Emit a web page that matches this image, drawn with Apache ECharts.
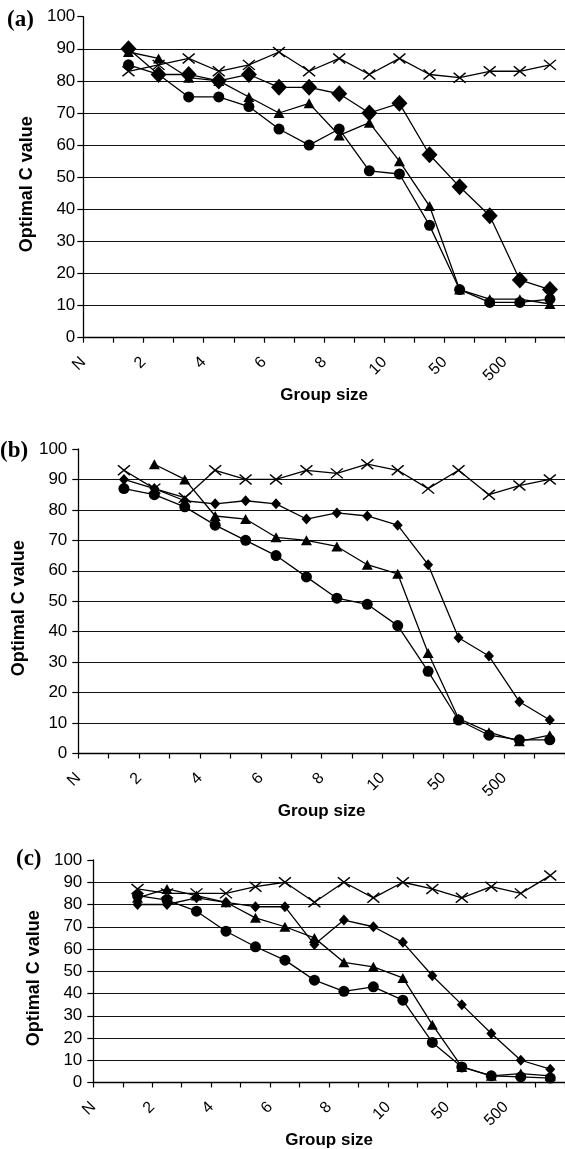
<!DOCTYPE html>
<html><head><meta charset="utf-8">
<script src="https://cdn.jsdelivr.net/npm/echarts@6/dist/echarts.min.js"></script>
<style>html,body{margin:0;padding:0;background:#fff}#c{width:565px;height:1149px}</style>
</head><body><div id="c"></div>
<script>
// 16 category slots; tick labels sit at the left boundary of even slots
const categories = ['N','','2','','4','','6','','8','','10','','50','','500',''];
const yTicks = {min: 0, max: 100, step: 10};

// Panel (a)
const aDiamond  = [null, 90, 82, 82, 80, 82, 78, 78, 76, 70, 73, 57, 47, 38, 18, 15];
const aTriangle = [null, 89, 87, 81, 80, 75, 70, 73, 63, 67, 55, 41, 15, 12, 12, 10.5];
const aCircle   = [null, 85, 82, 75, 75, 72, 65, 60, 65, 52, 51, 35, 15, 11, 11, 12];
const aCross    = [null, 83, 85, 87, 83, 85, 89, 83, 87, 82, 87, 82, 81, 83, 83, 85];
// Panel (b)
const bDiamond  = [null, 90, 87, 83, 82, 83, 82, 77, 79, 78, 75, 62, 38, 32, 17, 11];
const bTriangle = [null, null, 95, 90, 78, 77, 71, 70, 68, 62, 59, 33, 11.5, 7, 4, 6];
const bCircle   = [null, 87, 85, 81, 75, 70, 65, 58, 51, 49, 42, 27, 11, 6, 4.5, 4.5];
const bCross    = [null, 93, 87, 84, 93, 90, 90, 93, 92, 95, 93, 87, 93, 85, 88, 90];
// Panel (c)
const cDiamond  = [null, 80, 80, 83, 81, 79, 79, 62, 73, 70, 63, 48, 35, 22, 10, 6];
const cTriangle = [null, 83, 87, 84, 81, 74, 70, 65, 54, 52, 47, 26, 7, 3, 4, 3];
const cCircle   = [null, 84, 82, 77, 68, 61, 55, 46, 41, 43, 37, 18, 7, 3, 2.5, 2];
const cCross    = [null, 87, 85, 85, 85, 88, 90, 81, 90, 83, 90, 87, 83, 88, 85, 93];

const panelNames = ['(a)', '(b)', '(c)'];
const xName = 'Group size';
const yName = 'Optimal C value';

const FONT = '"Liberation Sans", Arial, sans-serif';
const CROSS = 'path://M0 0L10 10M10 0L0 10';

const panels = [
  {label: panelNames[0], labelPos: [7, 9], left: 83.3, top: 16.7, height: 321, yMargin: 8, yNameGap: 38, xNameGap: 44,
   sets: {cross: aCross, triangle: aTriangle, circle: aCircle, diamond: aDiamond}, diamondSize: [16, 17]},
  {label: panelNames[1], labelPos: [0, 440], left: 78.3, top: 449, height: 304.5, yMargin: 11, yNameGap: 43, xNameGap: 41,
   sets: {cross: bCross, triangle: bTriangle, circle: bCircle, diamond: bDiamond}, diamondSize: [10, 11]},
  {label: panelNames[2], labelPos: [16, 848], left: 93.3, top: 860, height: 222.5, yMargin: 11, yNameGap: 45, xNameGap: 48,
   sets: {cross: cCross, triangle: cTriangle, circle: cCircle, diamond: cDiamond}, diamondSize: [10, 11]}
];

const splitColors = [];
for (let v = yTicks.min; v <= yTicks.max; v += yTicks.step) splitColors.push(v === yTicks.max ? 'rgba(0,0,0,0)' : '#111');

const option = {animation: false, backgroundColor: '#fff', grid: [], xAxis: [], yAxis: [], series: [], graphic: []};

panels.forEach((p, k) => {
  option.grid.push({left: p.left, top: p.top, right: 0, height: p.height, containLabel: false, outerBoundsMode: 'none'});
  option.xAxis.push({
    gridIndex: k, type: 'category', position: 'bottom', data: categories, boundaryGap: true,
    axisLine: {lineStyle: {color: '#000', width: 1.3}},
    axisTick: {show: true, interval: 0, length: 5, lineStyle: {color: '#000', width: 1.2}},
    axisLabel: {show: false}, splitLine: {show: false}
  });
  option.xAxis.push({
    gridIndex: k, type: 'value', position: 'bottom', min: 0, max: categories.length, interval: 2,
    axisLine: {show: false}, axisTick: {show: false}, splitLine: {show: false},
    axisLabel: {rotate: 45, margin: 22, fontSize: 16, color: '#000', fontFamily: FONT, padding: [8, 0, 0, 0],
      formatter: v => categories[v] || ''},
    name: xName, nameLocation: 'middle', nameGap: p.xNameGap,
    nameTextStyle: {fontSize: 17, fontWeight: 'bold', color: '#000', fontFamily: FONT}
  });
  option.yAxis.push({
    gridIndex: k, type: 'value', position: 'left', min: yTicks.min, max: yTicks.max, interval: yTicks.step,
    axisLine: {show: true, lineStyle: {color: '#000', width: 1.3}},
    axisTick: {show: true, length: 6, lineStyle: {color: '#000', width: 1.2}},
    axisLabel: {margin: p.yMargin, fontSize: 17, color: '#000', fontFamily: FONT},
    splitLine: {show: true, lineStyle: {color: splitColors, width: 1.2}},
    name: yName, nameLocation: 'middle', nameGap: p.yNameGap,
    nameTextStyle: {fontSize: 18, fontWeight: 'bold', color: '#000', fontFamily: FONT, padding: [0, 14, 0, 0]}
  });
  const common = {type: 'line', xAxisIndex: 2 * k, yAxisIndex: k, showAllSymbol: true, silent: true,
    lineStyle: {color: '#000', width: 1.3}, emphasis: {disabled: true}};
  const fix = arr => arr.map(v => v == null ? '-' : v);
  option.series.push(Object.assign({}, common, {name: 'cross', data: fix(p.sets.cross), symbol: CROSS, symbolSize: [12, 10],
    itemStyle: {color: '#000', borderColor: '#000', borderWidth: 1.4}}));
  option.series.push(Object.assign({}, common, {name: 'triangle', data: fix(p.sets.triangle), symbol: 'triangle', symbolSize: [11, 10],
    itemStyle: {color: '#000', borderWidth: 0}}));
  option.series.push(Object.assign({}, common, {name: 'circle', data: fix(p.sets.circle), symbol: 'circle', symbolSize: 11,
    itemStyle: {color: '#000', borderWidth: 0}}));
  option.series.push(Object.assign({}, common, {name: 'diamond', data: fix(p.sets.diamond), symbol: 'diamond', symbolSize: p.diamondSize,
    itemStyle: {color: '#000', borderWidth: 0}}));
  option.graphic.push({type: 'text', left: p.labelPos[0], top: p.labelPos[1],
    style: {text: p.label, font: 'bold 23px "Liberation Serif", "Times New Roman", serif', fill: '#000'}});
});

const chart = echarts.init(document.getElementById('c'), null, {renderer: 'canvas'});
chart.setOption(option);
</script>
</body></html>
